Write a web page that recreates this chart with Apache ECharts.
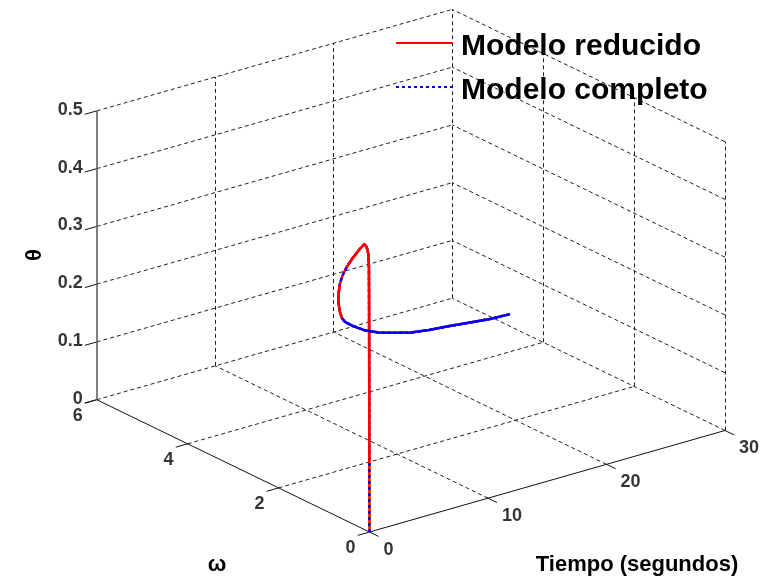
<!DOCTYPE html>
<html>
<head>
<meta charset="utf-8">
<script src="https://cdn.jsdelivr.net/npm/echarts@6/dist/echarts.min.js"></script>
<style>
  html, body { margin: 0; padding: 0; background: #fff; }
  #chart { width: 777px; height: 580px; }
</style>
</head>
<body>
<div id="chart"></div>
<script>
// Axis ticks
const tiempoTicks = [0, 10, 20, 30];
const omegaTicks = [0, 2, 4, 6];
const thetaTicks = [0, 0.1, 0.2, 0.3, 0.4, 0.5];

// Simulation samples: time (s), angular speed and angle
const tiempo = [0, 0.012, 0.02, 0.03, 0.04, 0.05, 0.1, 0.2, 0.3, 0.5, 1, 2, 3, 4, 5, 6, 7, 8, 9, 10, 12, 14, 16, 18, 20, 22, 24, 26, 28, 30];
const omegaReducido = [0, 0.006, 0.010, 0.015, 0.020, 0.025, 0.050, 0.099, 0.147, 0.243, 0.474, 0.902, 1.290, 1.641, 1.958, 2.245, 2.505, 2.740, 2.953, 3.145, 3.477, 3.749, 3.971, 4.153, 4.303, 4.425, 4.525, 4.606, 4.673, 4.728];
const thetaReducido = [0, 0.126, 0.21, 0.32, 0.41, 0.458, 0.478, 0.484, 0.487, 0.486, 0.466, 0.427, 0.391, 0.357, 0.324, 0.291, 0.260, 0.231, 0.205, 0.185, 0.153, 0.124, 0.100, 0.081, 0.064, 0.052, 0.043, 0.034, 0.026, 0.021];
const omegaCompleto = [0, 0.006, 0.010, 0.015, 0.020, 0.025, 0.050, 0.099, 0.147, 0.243, 0.474, 0.902, 1.290, 1.641, 1.958, 2.245, 2.505, 2.740, 2.953, 3.145, 3.477, 3.749, 3.971, 4.153, 4.303, 4.425, 4.525, 4.606, 4.673, 4.728];
const thetaCompleto = [0, 0.126, 0.21, 0.32, 0.41, 0.458, 0.478, 0.484, 0.487, 0.486, 0.466, 0.427, 0.391, 0.357, 0.324, 0.291, 0.260, 0.231, 0.205, 0.185, 0.153, 0.124, 0.100, 0.081, 0.064, 0.052, 0.043, 0.034, 0.026, 0.021];

// Axis limits
const T_MAX = 30, W_MAX = 6, TH_MAX = 0.5;

// Default 3-D view: azimuth -37.5 deg, elevation 30 deg
const AZ = -37.5 * Math.PI / 180, EL = 30 * Math.PI / 180;
function project(t, w, th) {
  const u = t / T_MAX, v = w / W_MAX, z = th / TH_MAX;
  return [
    Math.cos(AZ) * u + Math.sin(AZ) * v,
    -Math.sin(EL) * Math.sin(AZ) * u + Math.sin(EL) * Math.cos(AZ) * v + Math.cos(EL) * z
  ];
}

// Projected extents of the plot box
let xMin = Infinity, xMax = -Infinity, yMin = Infinity, yMax = -Infinity;
[0, T_MAX].forEach(t => [0, W_MAX].forEach(w => [0, TH_MAX].forEach(h => {
  const p = project(t, w, h);
  xMin = Math.min(xMin, p[0]); xMax = Math.max(xMax, p[0]);
  yMin = Math.min(yMin, p[1]); yMax = Math.max(yMax, p[1]);
})));

function curve(ts, ws, hs, from, to) {
  const pts = [];
  for (let i = 0; i < ts.length; i++) {
    if (ts[i] >= from && ts[i] <= to) pts.push(project(ts[i], ws[i], hs[i]));
  }
  return pts;
}

// Dashed grid on the three back planes
const gridSegs = [];
const seg = (a, b, list) => list.push({ coords: [project(a[0], a[1], a[2]), project(b[0], b[1], b[2])] });
tiempoTicks.forEach(t => { if (t > 0) seg([t, 0, 0], [t, W_MAX, 0], gridSegs); });
omegaTicks.forEach(w => { if (w > 0) seg([0, w, 0], [T_MAX, w, 0], gridSegs); });
tiempoTicks.forEach(t => { if (t > 0) seg([t, W_MAX, 0], [t, W_MAX, TH_MAX], gridSegs); });
thetaTicks.forEach(h => { if (h > 0) seg([0, W_MAX, h], [T_MAX, W_MAX, h], gridSegs); });
omegaTicks.forEach(w => { if (w < W_MAX) seg([T_MAX, w, 0], [T_MAX, w, TH_MAX], gridSegs); });
thetaTicks.forEach(h => { if (h > 0) seg([T_MAX, 0, h], [T_MAX, W_MAX, h], gridSegs); });

// Axis lines and outward ticks
const axisSegs = [];
seg([0, 0, 0], [T_MAX, 0, 0], axisSegs);
seg([0, 0, 0], [0, W_MAX, 0], axisSegs);
const zSegs = [];
seg([0, W_MAX, 0], [0, W_MAX, TH_MAX], zSegs);
const tickSegs = [];
omegaTicks.forEach(w => seg([0, w, 0], [-1.0, w, 0], tickSegs));
tiempoTicks.forEach(t => seg([t, 0, 0], [t, -0.2, 0], tickSegs));
thetaTicks.forEach(h => seg([0, W_MAX, h], [-1.0, W_MAX, h], tickSegs));

const FONT = '"Liberation Sans", Arial, sans-serif';
function tickLabels(items, pos, align) {
  return {
    type: 'scatter', symbolSize: 0, silent: true, clip: false, z: 10,
    data: items.map(it => ({ value: it.p, name: it.text })),
    label: {
      show: true, formatter: '{b}', position: pos, align: align, verticalAlign: 'middle',
      fontFamily: FONT, fontWeight: 'bold', fontSize: 18, color: '#000'
    }
  };
}

const RED = '#ff0000', BLUE = '#0000ff';
const redLine = { color: RED, width: 2.5, type: 'solid' };
const blueDotted = { color: BLUE, width: 2.5, type: [3, 3] };
const blueSolid = { color: BLUE, width: 2.5, type: 'solid' };

const chart = echarts.init(document.getElementById('chart'), null, { renderer: 'canvas' });
chart.setOption({
  backgroundColor: '#ffffff',
  animation: false,
  grid: { left: 96.7, right: 52, top: 9.4, bottom: 48, containLabel: false },
  xAxis: { type: 'value', min: xMin, max: xMax, show: false },
  yAxis: { type: 'value', min: yMin, max: yMax, show: false },
  legend: {
    data: ['Modelo reducido', 'Modelo completo'],
    orient: 'vertical', left: 395, top: 24, padding: 0,
    itemWidth: 57, itemHeight: 14, itemGap: 6, selectedMode: false,
    itemStyle: { opacity: 0 },
    formatter: name => '{a|' + name + '}',
    textStyle: {
      rich: {
        a: { fontFamily: FONT, fontWeight: 'bold', fontSize: 30, color: '#000', lineHeight: 30, padding: [8, 0, 0, 3] }
      }
    }
  },
  graphic: [
    { type: 'text', x: 35, y: 255, rotation: Math.PI / 2,
      style: { text: 'θ', font: 'bold 22px ' + FONT, fill: '#000', align: 'center', verticalAlign: 'middle' } },
    { type: 'text', x: 217, y: 565,
      style: { text: 'ω', font: 'bold 22px ' + FONT, fill: '#000', align: 'center', verticalAlign: 'middle' } },
    { type: 'text', x: 637, y: 565,
      style: { text: 'Tiempo (segundos)', font: 'bold 22px ' + FONT, fill: '#000', align: 'center', verticalAlign: 'middle' } }
  ],
  series: [
    { name: 'Modelo reducido', type: 'line', symbol: 'none', clip: false, z: 3,
      itemStyle: { color: RED }, lineStyle: redLine, data: curve(tiempo, omegaReducido, thetaReducido, 0, T_MAX) },
    { name: 'Modelo completo', type: 'line', symbol: 'none', clip: false, z: 4,
      itemStyle: { color: BLUE }, lineStyle: blueDotted, data: curve(tiempo, omegaCompleto, thetaCompleto, 0, T_MAX) },
    { name: 'Modelo reducido', type: 'line', symbol: 'none', clip: false, z: 5,
      itemStyle: { color: RED }, lineStyle: redLine, data: curve(tiempo, omegaReducido, thetaReducido, 0.012, 3) },
    { name: 'Modelo reducido', type: 'line', symbol: 'none', clip: false, z: 5,
      itemStyle: { color: RED }, lineStyle: redLine, data: curve(tiempo, omegaReducido, thetaReducido, 5, 9) },
    { name: 'Modelo completo', type: 'line', symbol: 'none', clip: false, z: 5,
      itemStyle: { color: BLUE }, lineStyle: blueSolid, data: curve(tiempo, omegaCompleto, thetaCompleto, 9, T_MAX) },
    { name: 'grid3d', type: 'lines', coordinateSystem: 'cartesian2d', silent: true, clip: false, z: 1,
      lineStyle: { color: '#222', width: 1, type: [4, 3], opacity: 1, curveness: 0 }, data: gridSegs },
    { name: 'axes3d', type: 'lines', coordinateSystem: 'cartesian2d', silent: true, clip: false, z: 2,
      lineStyle: { color: '#111', width: 1, type: 'solid', opacity: 1, curveness: 0 }, data: axisSegs.concat(tickSegs) },
    { name: 'zaxis', type: 'lines', coordinateSystem: 'cartesian2d', silent: true, clip: false, z: 2,
      lineStyle: { color: '#555', width: 1.5, type: 'solid', opacity: 1, curveness: 0 }, data: zSegs },
    tickLabels(thetaTicks.map(h => ({ p: project(0, W_MAX, h), text: String(h) })), [-14, -1], 'right'),
    tickLabels(omegaTicks.map(w => ({ p: project(0, w, 0), text: String(w) })), [-14, 16], 'right'),
    tickLabels(tiempoTicks.map(t => ({ p: project(t, 0, 0), text: String(t) })), [14, 18], 'left')
  ]
});
</script>
</body>
</html>
